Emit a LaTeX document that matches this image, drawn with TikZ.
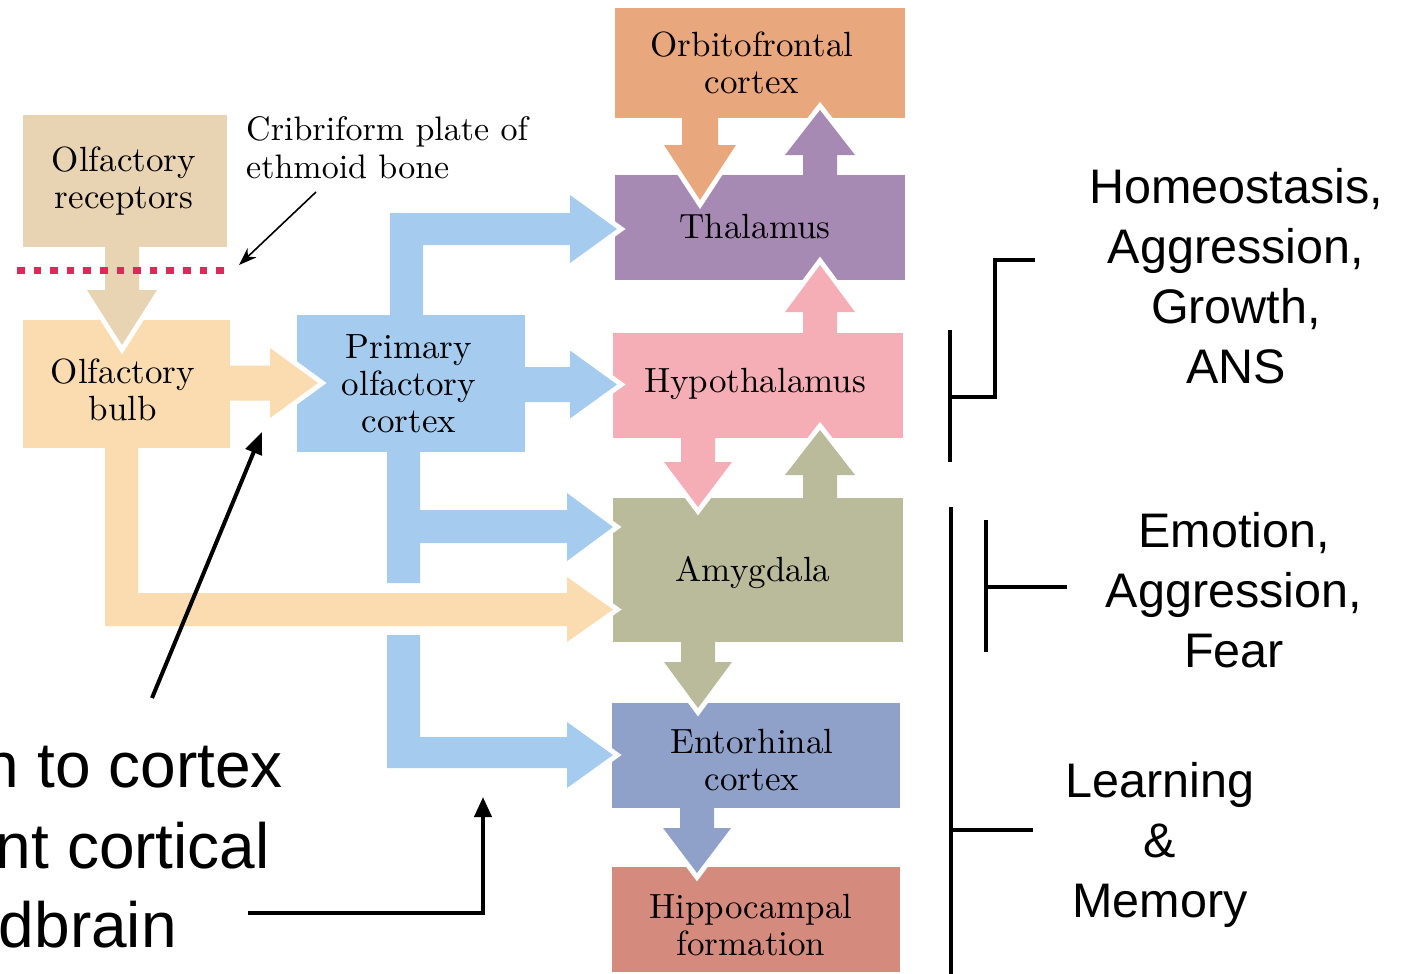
\documentclass[tikz,border=0pt]{standalone}
\usepackage{fontspec}
\newfontfamily\sansf{Liberation Sans}
\newfontfamily\boxf{lmroman10-regular.otf}
\usetikzlibrary{arrows.meta}
\definecolor{recC}{HTML}{E8D3B3}
\definecolor{bulbC}{HTML}{FADCB0}
\definecolor{priC}{HTML}{A5CBEE}
\definecolor{orbC}{HTML}{E9A77E}
\definecolor{thaC}{HTML}{A78AB3}
\definecolor{hypC}{HTML}{F5AEB5}
\definecolor{amyC}{HTML}{B9BB9B}
\definecolor{entC}{HTML}{8FA0C9}
\definecolor{hipC}{HTML}{D48B7E}
\definecolor{dotC}{HTML}{E5245A}
% vertical block arrow: color, cx, y0, ybase, ytip, stem half, head half
\newcommand\vblock[7]{%
  \draw[white,line width=10pt,line join=miter] ({#2+#7},#4) -- (#2,#5) -- ({#2-#7},#4);
  \fill[#1] ({#2-#6},#3) -- ({#2+#6},#3) -- ({#2+#6},#4) -- ({#2+#7},#4) -- (#2,#5) -- ({#2-#7},#4) -- ({#2-#6},#4) -- cycle;}
% horizontal block arrow: color, cy, x0, xbase, xtip, stem half, head half
\newcommand\hblock[7]{%
  \draw[white,line width=10pt,line join=miter] (#4,{#2-#7}) -- (#5,#2) -- (#4,{#2+#7});
  \fill[#1] (#3,{#2-#6}) -- (#4,{#2-#6}) -- (#4,{#2-#7}) -- (#5,#2) -- (#4,{#2+#7}) -- (#4,{#2+#6}) -- (#3,{#2+#6}) -- cycle;}
\begin{document}
\begin{tikzpicture}[x=1pt,y=-1pt,
  box/.style={rectangle, inner sep=0pt, outer sep=0pt},
  lbl/.style={font=\boxf\fontsize{35}{37}\selectfont, align=center, inner sep=0pt, text=black},
  side/.style={font=\sansf\fontsize{48.5}{60}\selectfont, align=center, inner sep=0pt},
  big/.style={font=\sansf\fontsize{64}{80}\selectfont, inner sep=0pt, anchor=base east},
  brk/.style={line width=4pt},
  whiteedge/.style={white,line width=10pt,line join=miter}
]
\fill[white] (0,0) rectangle (1403,974);
\useasboundingbox (0,0) rectangle (1403,974);

% boxes
\node[box, fill=recC, minimum width=204, minimum height=132] (rec) at (125,181) {};
\node[box, fill=bulbC, minimum width=207, minimum height=128] (bulb) at (126.5,384) {};
\node[box, fill=priC, minimum width=228, minimum height=137] (pri) at (411,383.5) {};
\node[box, fill=orbC, minimum width=290, minimum height=110] (orb) at (760,63) {};
\node[box, fill=thaC, minimum width=290, minimum height=105] (tha) at (760,227.5) {};
\node[box, fill=hypC, minimum width=290, minimum height=105] (hyp) at (758,385.5) {};
\node[box, fill=amyC, minimum width=290, minimum height=144] (amy) at (758,570) {};
\node[box, fill=entC, minimum width=288, minimum height=105] (ent) at (756,755.5) {};
\node[box, fill=hipC, minimum width=288, minimum height=105] (hip) at (756,919.5) {};

% vertical block arrows
\vblock{orbC}{700}{110}{145}{200}{18}{36}
\vblock{thaC}{820}{185}{155}{110}{17}{35}
\vblock{hypC}{820}{345}{312}{265}{17}{35}
\vblock{hypC}{698}{430}{462}{507}{17}{34}
\vblock{amyC}{820}{505}{475}{430}{17}{35}
\vblock{amyC}{698}{635}{662}{708}{17}{34}
\vblock{entC}{697}{800}{828}{873}{17}{34}
\vblock{recC}{122}{240}{290}{345}{17}{35}

% horizontal block arrows
\hblock{bulbC}{383}{225}{270}{318}{17.5}{35}
\hblock{priC}{384.5}{520}{570}{617}{17.5}{34}

% blue upper branch
\draw[whiteedge] (570,195) -- (617,229) -- (570,263);
\fill[priC] (390,320) -- (390,213) -- (570,213) -- (570,195) -- (617,229) -- (570,263) -- (570,245) -- (423,245) -- (423,320) -- cycle;
% blue lower branch (to amygdala)
\draw[whiteedge] (567,493) -- (613,527) -- (567,561);
\fill[priC] (387,448) -- (420,448) -- (420,510) -- (567,510) -- (567,493) -- (613,527) -- (567,561) -- (567,543) -- (420,543) -- (420,583) -- (387,583) -- cycle;
% blue lowest branch (to entorhinal)
\draw[whiteedge] (567,722) -- (613,755) -- (567,788);
\fill[priC] (387,635) -- (420,635) -- (420,737) -- (567,737) -- (567,722) -- (613,755) -- (567,788) -- (567,768) -- (387,768) -- cycle;
% orange bulb -> amygdala
\draw[whiteedge] (567,577) -- (613,609.5) -- (567,642);
\fill[bulbC] (105,440) -- (138,440) -- (138,593) -- (567,593) -- (567,577) -- (613,609.5) -- (567,642) -- (567,626) -- (105,626) -- cycle;

% cribriform plate (dotted line)
\foreach \i in {0,...,12} \fill[dotC] ({17+\i*16.6},266.5) rectangle +(7.5,7.5);

% labels
\node[lbl] (recT) at (124,181) {Olfactory\\receptors};
\node[lbl] (bulbT) at (123,390) {Olfactory\\bulb};
\node[lbl] (priT) at (409,384) {Primary\\olfactory\\cortex};
\node[lbl] (orbT) at (752,63) {Orbitofrontal\\cortex};
\node[lbl] (thaT) at (755,227) {Thalamus};
\node[lbl] (hypT) at (755,384) {Hypothalamus};
\node[lbl] (amyT) at (753,573) {Amygdala};
\node[lbl] (entT) at (752,760) {Entorhinal\\cortex};
\node[lbl] (hipT) at (751,925) {Hippocampal\\formation};
\node[lbl, font=\boxf\fontsize{34}{38}\selectfont, align=left, anchor=north west] (crib) at (246,116) {Cribriform plate of\\ethmoid bone};

% thin arrow to the plate
\coordinate (cA) at (316,192);
\coordinate (cB) at (239,265);
\draw[line width=1.6pt, -{Stealth[length=18pt,width=13pt]}] (cA) -- (cB);

% thick annotation arrows
\coordinate (a1s) at (152,698);
\coordinate (a1e) at (262,432);
\draw[line width=4pt, -{Triangle[length=22pt,width=17pt]}] (a1s) -- (a1e);
\coordinate (a2s) at (248,913);
\coordinate (a2c) at (483,913);
\coordinate (a2e) at (483,797);
\draw[line width=4pt, -{Triangle[length=20pt,width=17pt]}] (a2s) -- (a2c) -- (a2e);

% left text (cut by page edge, as in the reference)
\node[big] (L1) at (283,787) {n to cortex};
\node[big] (L2) at (270,868) {nt cortical};
\node[big] (L3) at (177,947) {dbrain};

% brackets
\coordinate (b1a) at (950,330); \coordinate (b1b) at (950,462);
\coordinate (b1c) at (950,397); \coordinate (b1d) at (995,397);
\coordinate (b1e) at (995,260); \coordinate (b1f) at (1035,260);
\draw[brk] (b1a) -- (b1b);
\draw[brk] (b1c) -- (b1d) -- (b1e) -- (b1f);
\coordinate (b2a) at (951,507); \coordinate (b2b) at (951,976);
\coordinate (b2c) at (951,830); \coordinate (b2d) at (1033,830);
\coordinate (b2e) at (986,520); \coordinate (b2f) at (986,652);
\coordinate (b2g) at (986,587); \coordinate (b2h) at (1067,587);
\draw[brk] (b2a) -- (b2b);
\draw[brk] (b2c) -- (b2d);
\draw[brk] (b2e) -- (b2f);
\draw[brk] (b2g) -- (b2h);

% right texts
\node[side] (homeo) at (1236,276) {Homeostasis,\\Aggression,\\Growth,\\ANS};
\node[side] (emo) at (1234,590) {Emotion,\\Aggression,\\Fear};
\node[side] (learn) at (1160,845) {Learning\\\&\\Memory};
\end{tikzpicture}
\end{document}
